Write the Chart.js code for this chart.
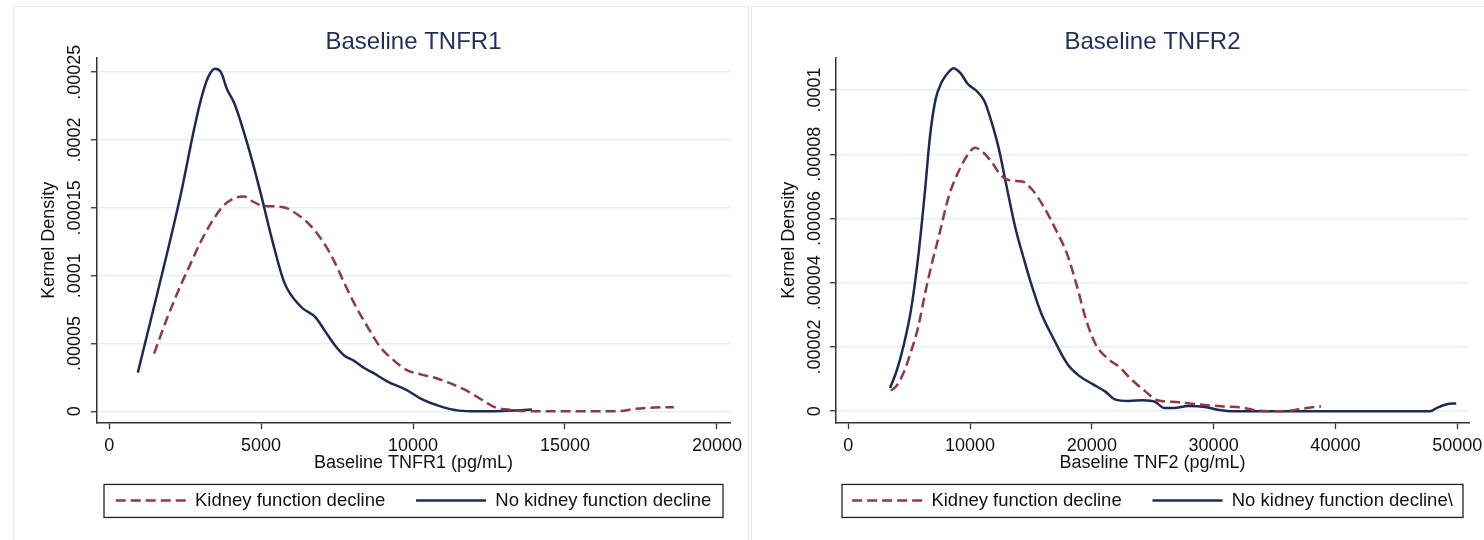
<!DOCTYPE html>
<html>
<head>
<meta charset="utf-8">
<script src="https://cdn.jsdelivr.net/npm/chart.js@4"></script>
<style>
  html, body { margin: 0; padding: 0; background: #fff; overflow: hidden; width: 1484px; height: 540px; }
  .panel { position: absolute; top: 6px; height: 600px; border: 1px solid #e4ebf0; box-sizing: border-box; }
  canvas { position: absolute; top: 6px; }
</style>
</head>
<body>
<div class="panel" style="left:13px; width:736px;"></div>
<div class="panel" style="left:751px; width:800px;"></div>
<canvas id="tnfr1-chart" width="801" height="534" style="left:13px;"></canvas>
<canvas id="tnfr2-chart" width="803" height="534" style="left:751px;"></canvas>
<script>
// Baseline TNFR1 (pg/mL) - kernel density
const tnfr1DeclineX = [1478, 1918, 2390, 2704, 3018, 3333, 3726, 4119, 4433, 4747, 5062, 5691, 6241, 6634, 7105, 7420, 7734, 8127, 8520, 8913, 9306, 9778, 10250, 10721, 11193, 11822, 12293, 12686, 13236, 14022, 15280, 16694, 17323, 17952, 18581];
const tnfr1DeclineY = [0.0000425, 0.0000693, 0.0000947, 0.00011, 0.0001253, 0.000138, 0.0001507, 0.0001571, 0.0001584, 0.0001545, 0.0001515, 0.0001507, 0.0001444, 0.0001367, 0.0001227, 0.00011, 0.0000947, 0.0000769, 0.0000616, 0.0000476, 0.0000387, 0.0000306, 0.0000272, 0.0000247, 0.0000209, 0.0000145, 0.0000081, 0.0000031, 0.000001, 0, 0, 0, 0.0000018, 0.0000028, 0.000003];
const tnfr1NoDeclineX = [943, 1446, 1918, 2390, 2782, 3018, 3254, 3490, 3678, 3883, 4119, 4590, 4983, 5376, 5769, 6320, 6791, 7105, 7420, 7734, 8049, 8363, 8677, 9149, 9778, 10250, 10878, 11507, 12136, 12922, 13551, 13912];
const tnfr1NoDeclineY = [0.0000285, 0.0000743, 0.0001176, 0.0001634, 0.0002067, 0.0002296, 0.0002462, 0.0002526, 0.00025, 0.0002373, 0.0002271, 0.000194, 0.000161, 0.0001253, 0.0000947, 0.0000769, 0.0000693, 0.0000591, 0.0000489, 0.0000412, 0.0000374, 0.0000323, 0.0000285, 0.0000221, 0.0000158, 0.0000094, 0.0000038, 0.0000005, 0, 0.0000003, 0.0000008, 0.0000013];
const tnfr1XTicks = [0, 5000, 10000, 15000, 20000];
const tnfr1YTicks = [0, 0.00005, 0.0001, 0.00015, 0.0002, 0.00025];
const tnfr1YTickLabels = ['0', '.00005', '.0001', '.00015', '.0002', '.00025'];

// Baseline TNFR2 (pg/mL) - kernel density
const tnfr2DeclineX = [3505, 3972, 4556, 5140, 5724, 6308, 6892, 7476, 8255, 9034, 9813, 10397, 10981, 11760, 12539, 13318, 14291, 15070, 16043, 17017, 17991, 18769, 19548, 20327, 21300, 22274, 23248, 24416, 25390, 26947, 28505, 30841, 32398, 33566, 35513, 36681, 37850, 38823];
const tnfr2DeclineY = [0.0000064, 0.000008, 0.0000121, 0.0000185, 0.000026, 0.0000368, 0.0000465, 0.0000551, 0.000067, 0.0000745, 0.0000799, 0.000082, 0.0000809, 0.0000777, 0.0000734, 0.0000718, 0.0000715, 0.0000691, 0.0000637, 0.0000567, 0.0000487, 0.000039, 0.0000282, 0.0000207, 0.0000164, 0.0000137, 0.0000099, 0.0000061, 0.0000034, 0.0000029, 0.0000022, 0.0000015, 0.0000011, 0.0000002, 0, 0.0000004, 0.0000011, 0.0000015];
const tnfr2NoDeclineX = [3427, 3972, 4556, 5140, 5724, 6308, 6697, 7165, 7671, 8255, 8644, 9228, 9813, 10592, 11176, 11760, 12344, 12928, 13707, 14486, 15070, 15849, 16822, 17991, 18964, 20132, 21106, 21885, 23053, 24221, 25195, 25974, 26752, 27921, 29284, 30452, 31620, 37850, 47781, 48365, 49144, 49923];
const tnfr2NoDeclineY = [0.0000072, 0.0000126, 0.0000207, 0.0000314, 0.0000476, 0.0000691, 0.0000853, 0.0000971, 0.0001025, 0.0001057, 0.0001068, 0.0001052, 0.0001019, 0.0000995, 0.0000966, 0.0000901, 0.000082, 0.0000713, 0.0000573, 0.0000465, 0.000039, 0.0000304, 0.0000228, 0.0000147, 0.000011, 0.0000083, 0.0000061, 0.0000037, 0.0000032, 0.0000034, 0.0000029, 0.000001, 0.000001, 0.0000016, 0.0000013, 0.0000004, 0, 0, 0, 0.0000011, 0.0000022, 0.0000024];
const tnfr2XTicks = [0, 10000, 20000, 30000, 40000, 50000];
const tnfr2YTicks = [0, 0.00002, 0.00004, 0.00006, 0.00008, 0.0001];
const tnfr2YTickLabels = ['0', '.00002', '.00004', '.00006', '.00008', '.0001'];

const RED = '#903a40';
const NAVY = '#1c2b55';
const FONT = 'Liberation Sans, Arial, sans-serif';

function toPoints(xs, ys) {
    return xs.map((x, i) => ({ x: x, y: ys[i] }));
}

// box around the legend, like Stata draws it: centred under the plot
const legendBox = {
    id: 'legendBox',
    afterDraw(chart, args, pluginOpts) {
        const boxes = chart.legend.legendHitBoxes;
        if (!boxes || !boxes.length) return;
        const area = chart.chartArea;
        const center = (area.left + area.right) / 2;
        const w = pluginOpts.width;
        const cy = boxes[0].top + boxes[0].height / 2;
        const ctx = chart.ctx;
        ctx.save();
        ctx.strokeStyle = '#222';
        ctx.lineWidth = 1.3;
        ctx.strokeRect(center - w / 2, cy - 16, w, 33);
        ctx.restore();
    }
};

function legendLabels(chart) {
    const items = Chart.defaults.plugins.legend.labels.generateLabels(chart);
    return items.map((item, i) => {
        const ds = chart.data.datasets[i];
        return Object.assign(item, {
            lineDash: ds.borderDash || [],
            strokeStyle: ds.borderColor,
            lineWidth: ds.borderWidth
        });
    });
}

function makeChart(canvasId, opts) {
    new Chart(document.getElementById(canvasId).getContext('2d'), {
        type: 'line',
        data: {
            datasets: [
                {
                    label: 'Kidney function decline',
                    data: toPoints(opts.declineX, opts.declineY),
                    borderColor: RED,
                    backgroundColor: RED,
                    borderWidth: 2.5,
                    borderDash: [10, 5],
                    pointRadius: 0,
                    cubicInterpolationMode: 'monotone'
                },
                {
                    label: opts.noDeclineLabel,
                    data: toPoints(opts.noDeclineX, opts.noDeclineY),
                    borderColor: NAVY,
                    backgroundColor: NAVY,
                    borderWidth: 2.5,
                    pointRadius: 0,
                    cubicInterpolationMode: 'monotone'
                }
            ]
        },
        options: {
            responsive: false,
            animation: false,
            devicePixelRatio: 1,
            layout: { padding: { left: 0, right: 0, top: 0, bottom: 20.3 } },
            plugins: {
                title: {
                    display: true,
                    text: opts.title,
                    color: '#1e2f5e',
                    font: { family: FONT, size: 24, weight: 'normal' },
                    padding: { top: 21.6, bottom: 0.9 }
                },
                legend: {
                    position: 'bottom',
                    labels: {
                        usePointStyle: true,
                        pointStyle: 'line',
                        pointStyleWidth: 70,
                        padding: 30.8,
                        color: '#111',
                        font: { family: FONT, size: 18.5 },
                        generateLabels: legendLabels
                    }
                },
                legendBox: { width: opts.legendWidth },
                tooltip: { enabled: false }
            },
            scales: {
                x: {
                    type: 'linear',
                    min: opts.xMin,
                    max: opts.xMax,
                    afterBuildTicks: scale => { scale.ticks = opts.xTicks.map(v => ({ value: v })); },
                    border: { color: '#333', width: 1.5 },
                    grid: { drawOnChartArea: false, drawTicks: true, tickLength: 6, tickColor: '#333', tickWidth: 1.3 },
                    ticks: {
                        autoSkip: false, maxRotation: 0, padding: 5.7, color: '#111',
                        font: { family: FONT, size: 18 },
                        callback: value => String(value)
                    },
                    title: {
                        display: true, text: opts.xTitle, color: '#111',
                        font: { family: FONT, size: 18 },
                        padding: { top: -10.3, bottom: -13 }
                    }
                },
                y: {
                    type: 'linear',
                    min: opts.yMin,
                    max: opts.yMax,
                    afterBuildTicks: scale => { scale.ticks = opts.yTicks.map(v => ({ value: v })); },
                    afterFit: scale => { scale.width = opts.yWidth; },
                    border: { color: '#333', width: 1.5 },
                    grid: { color: '#e7eff2', lineWidth: 1.5, tickLength: 6, tickColor: '#333', tickWidth: 1.3 },
                    ticks: {
                        minRotation: 90, maxRotation: 90, crossAlign: 'center',
                        padding: opts.yTickPad, color: '#111',
                        font: { family: FONT, size: 18 },
                        callback: (value, index) => opts.yTickLabels[index]
                    },
                    title: {
                        display: true, text: 'Kernel Density', color: '#111',
                        font: { family: FONT, size: 18 },
                        padding: { top: opts.yTitlePad, bottom: 0 }
                    }
                },
                // empty right-hand axis so plot, title and legend share one centre
                yRight: {
                    type: 'linear',
                    position: 'right',
                    afterFit: scale => { scale.width = opts.yWidth; },
                    border: { display: false },
                    grid: { display: false },
                    ticks: { display: false }
                }
            }
        },
        plugins: [legendBox]
    });
}

makeChart('tnfr1-chart', {
    title: 'Baseline TNFR1',
    xTitle: 'Baseline TNFR1 (pg/mL)',
    noDeclineLabel: 'No kidney function decline',
    declineX: tnfr1DeclineX, declineY: tnfr1DeclineY,
    noDeclineX: tnfr1NoDeclineX, noDeclineY: tnfr1NoDeclineY,
    xTicks: tnfr1XTicks, yTicks: tnfr1YTicks, yTickLabels: tnfr1YTickLabels,
    xMin: -400, xMax: 20430, yMin: -0.0000087, yMax: 0.000261,
    yWidth: 84, yTickPad: -11.5, yTitlePad: 25.7, legendWidth: 619
});

makeChart('tnfr2-chart', {
    title: 'Baseline TNFR2',
    xTitle: 'Baseline TNF2 (pg/mL)',
    noDeclineLabel: 'No kidney function decline\\',
    declineX: tnfr2DeclineX, declineY: tnfr2DeclineY,
    noDeclineX: tnfr2NoDeclineX, noDeclineY: tnfr2NoDeclineY,
    xTicks: tnfr2XTicks, yTicks: tnfr2YTicks, yTickLabels: tnfr2YTickLabels,
    xMin: -1012, xMax: 50972, yMin: -0.0000037, yMax: 0.0001102,
    yWidth: 85, yTickPad: -12.5, yTitlePad: 27.2, legendWidth: 621
});
</script>
</body>
</html>
